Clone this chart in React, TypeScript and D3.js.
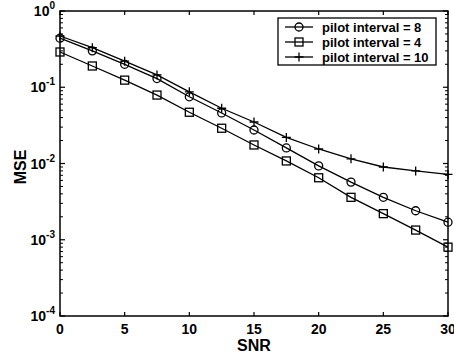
import React from 'react'
import * as d3 from 'd3'

const snr = [0, 2.5, 5, 7.5, 10, 12.5, 15, 17.5, 20, 22.5, 25, 27.5, 30]
const mse8 = [0.44, 0.30, 0.20, 0.13, 0.075, 0.046, 0.0275, 0.016, 0.0093, 0.0057, 0.0036, 0.0024, 0.0017]
const mse4 = [0.29, 0.19, 0.124, 0.079, 0.047, 0.029, 0.0175, 0.0108, 0.0065, 0.0036, 0.0022, 0.00134, 0.0008]
const mse10 = [0.47, 0.33, 0.22, 0.145, 0.087, 0.053, 0.035, 0.022, 0.0155, 0.0115, 0.009, 0.008, 0.0072]
const xTicks = [0, 5, 10, 15, 20, 25, 30]
const yExps = [0, -1, -2, -3, -4]
const legendLabels = ['pilot interval = 8', 'pilot interval = 4', 'pilot interval = 10']

const W = 454
const H = 361
const L = 60, R = 448, T = 11, B = 316
const font = 'Liberation Sans, Arial, sans-serif'

export default function App() {
  const x = d3.scaleLinear().domain([0, 30]).range([L, R])
  const y = d3.scaleLog().domain([1e-4, 1]).range([B, T])
  const line = d3.line<number>().x((_, i) => x(snr[i])).y(d => y(d))

  const minor: number[] = []
  for (let e = -4; e < 0; e++) for (let k = 2; k <= 9; k++) minor.push(k * Math.pow(10, e))

  const series = [
    { data: mse8, marker: 'circle' },
    { data: mse4, marker: 'square' },
    { data: mse10, marker: 'plus' },
  ]

  const drawMarker = (m: string, cx: number, cy: number, key: string) => {
    if (m === 'circle') return <circle key={key} cx={cx} cy={cy} r={4} fill="none" stroke="#000" strokeWidth={1.3} />
    if (m === 'square') return <rect key={key} x={cx - 4} y={cy - 4} width={8} height={8} fill="none" stroke="#000" strokeWidth={1.3} />
    return <path key={key} d={`M${cx - 4.5},${cy}H${cx + 4.5}M${cx},${cy - 4.5}V${cy + 4.5}`} stroke="#000" strokeWidth={1.3} />
  }

  return (
    <svg width={W} height={H} style={{ position: 'absolute', left: 0, top: 0 }}>
      <rect width={W} height={H} fill="#fff" />
      <rect x={L} y={T} width={R - L} height={B - T} fill="none" stroke="#000" strokeWidth={1.5} />
      {xTicks.map(t => (
        <g key={'x' + t}>
          <line x1={x(t)} x2={x(t)} y1={B} y2={B - 4} stroke="#000" strokeWidth={1.2} />
          <line x1={x(t)} x2={x(t)} y1={T} y2={T + 4} stroke="#000" strokeWidth={1.2} />
          <text x={x(t)} y={B + 18} textAnchor="middle" fontFamily={font} fontWeight="bold" fontSize={14}>{t}</text>
        </g>
      ))}
      {yExps.map(e => (
        <g key={'y' + e}>
          <line x1={L} x2={L + 5} y1={y(Math.pow(10, e))} y2={y(Math.pow(10, e))} stroke="#000" strokeWidth={1.2} />
          <line x1={R} x2={R - 5} y1={y(Math.pow(10, e))} y2={y(Math.pow(10, e))} stroke="#000" strokeWidth={1.2} />
          <text x={L - 5} y={y(Math.pow(10, e)) + 5} textAnchor="end" fontFamily={font} fontWeight="bold" fontSize={14}>
            10<tspan dy={-7} fontSize={10}>{e}</tspan>
          </text>
        </g>
      ))}
      {minor.map(v => (
        <g key={'m' + v}>
          <line x1={L} x2={L + 3} y1={y(v)} y2={y(v)} stroke="#000" strokeWidth={1} />
          <line x1={R} x2={R - 3} y1={y(v)} y2={y(v)} stroke="#000" strokeWidth={1} />
        </g>
      ))}
      {series.map((s, si) => (
        <g key={'s' + si}>
          <path d={line(s.data) || ''} fill="none" stroke="#000" strokeWidth={1.3} />
          {s.data.map((d, i) => drawMarker(s.marker, x(snr[i]), y(d), si + '-' + i))}
        </g>
      ))}
      <g>
        <rect x={278} y={18} width={158} height={47} fill="#fff" stroke="#000" strokeWidth={1.3} />
        {series.map((s, i) => {
          const cy = 27 + i * 15
          return (
            <g key={'l' + i}>
              <line x1={285} x2={313} y1={cy} y2={cy} stroke="#000" strokeWidth={1.3} />
              {drawMarker(s.marker, 299, cy, 'lm' + i)}
              <text x={322} y={cy + 5} fontFamily={font} fontWeight="bold" fontSize={13}>{legendLabels[i]}</text>
            </g>
          )
        })}
      </g>
      <text x={(L + R) / 2} y={351} textAnchor="middle" fontFamily={font} fontWeight="bold" fontSize={16}>SNR</text>
      <text transform={`translate(26,167) rotate(-90)`} textAnchor="middle" fontFamily={font} fontWeight="bold" fontSize={16}>MSE</text>
    </svg>
  )
}
